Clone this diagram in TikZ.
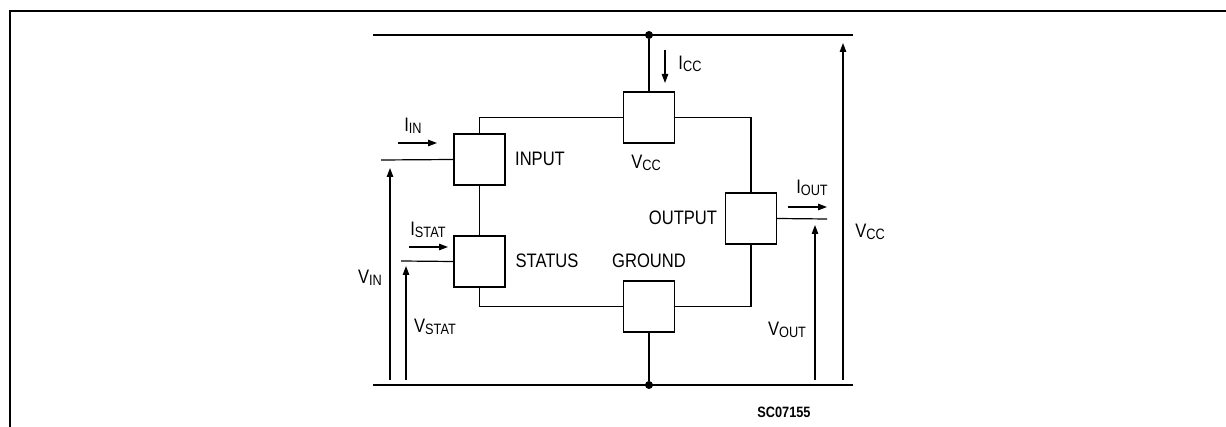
\documentclass[tikz,border=0pt]{standalone}
\usepackage{fontspec}
\setmainfont{Liberation Sans}[FakeStretch=0.85]
\usetikzlibrary{arrows.meta}
\newcommand{\lsub}[2]{#1\raisebox{-2pt}{\fontsize{15}{15}\selectfont #2}}
\begin{document}
\begin{tikzpicture}[x=1pt,y=-1pt,
  wire/.style={line width=1.2pt},
  frm/.style={line width=1.5pt},
  blk/.style={draw,line width=1.2pt,minimum width=51pt,minimum height=51pt,inner sep=0pt},
  lbl/.style={font=\fontsize{19.5}{20}\selectfont,inner sep=0pt},
  code/.style={font=\fontsize{15}{15}\selectfont\bfseries,inner sep=0pt},
  arr/.style={line width=1.2pt,-{Triangle[length=9pt,width=6.5pt]}},
  jdot/.style={circle,fill,inner sep=0pt,minimum size=8pt}]
\useasboundingbox (0,0) rectangle (1226,427);
% frame
\coordinate (fBL) at (10,427);
\coordinate (fTL) at (10,11);
\coordinate (fTR) at (1226,11);
\draw[frm] (fBL) -- (fTL) -- (fTR);
% rails
\coordinate (rTL) at (373,35);
\coordinate (rTR) at (853,35);
\coordinate (rBL) at (373,385);
\coordinate (rBR) at (853,385);
\draw[wire] (rTL) -- (rTR);
\draw[wire] (rBL) -- (rBR);
\node[jdot] (tdot) at (649,35) {};
\node[jdot] (bdot) at (649,385) {};
% blocks
\node[blk] (vcc) at (649,117.5) {};
\node[blk] (input) at (479.5,159.5) {};
\node[blk] (status) at (479.5,261.5) {};
\node[blk] (ground) at (649,306.5) {};
\node[blk] (output) at (751,218.5) {};
% wires
\draw[wire] (tdot) -- (vcc.north);
\draw[wire] (ground.south) -- (bdot);
\draw[wire] (input.north) |- (vcc.west);
\draw[wire] (vcc.east) -| (output.north);
\draw[wire] (input.south) -- (status.north);
\draw[wire] (status.south) |- (ground.west);
\draw[wire] (ground.east) -| (output.south);
\coordinate (inL) at (381,160);
\coordinate (stL) at (401,261);
\coordinate (outR) at (827,219);
\draw[wire] (inL) -- (input.west);
\draw[wire] (stL) -- (status.west);
\draw[wire] (output.east) -- (outR);
% current arrows
\coordinate (iinA) at (398,143); \coordinate (iinB) at (437,143);
\coordinate (istA) at (409,247); \coordinate (istB) at (448,247);
\coordinate (ioutA) at (788,207); \coordinate (ioutB) at (827,207);
\coordinate (iccA) at (665,50); \coordinate (iccB) at (665,83);
\draw[arr] (iinA) -- (iinB);
\draw[arr] (istA) -- (istB);
\draw[arr] (ioutA) -- (ioutB);
\draw[arr] (iccA) -- (iccB);
% voltage arrows
\coordinate (vinA) at (390,380); \coordinate (vinB) at (390,168);
\coordinate (vstA) at (406,380); \coordinate (vstB) at (406,266);
\coordinate (voA) at (815,380); \coordinate (voB) at (815,225);
\coordinate (vcA) at (843,380); \coordinate (vcB) at (843,43);
\draw[arr] (vinA) -- (vinB);
\draw[arr] (vstA) -- (vstB);
\draw[arr] (voA) -- (voB);
\draw[arr] (vcA) -- (vcB);
% labels
\node[lbl] (lIin) at (413,126) {\lsub{I}{IN}};
\node[lbl] (lIcc) at (690,64) {\lsub{I}{CC}};
\node[lbl] (lInput) at (540,159) {INPUT};
\node[lbl] (lVccB) at (646,163) {\lsub{V}{CC}};
\node[lbl] (lIst) at (428,230) {\lsub{I}{STAT}};
\node[lbl] (lStatus) at (547,261) {STATUS};
\node[lbl] (lVin) at (370,278) {\lsub{V}{IN}};
\node[lbl] (lVst) at (435,327) {\lsub{V}{STAT}};
\node[lbl] (lGround) at (649,261) {GROUND};
\node[lbl] (lOutput) at (683,218) {OUTPUT};
\node[lbl] (lIout) at (812,188) {\lsub{I}{OUT}};
\node[lbl] (lVout) at (787,330) {\lsub{V}{OUT}};
\node[lbl] (lVccR) at (870,232) {\lsub{V}{CC}};
\node[code] (lCode) at (784,412) {SC07155};
\end{tikzpicture}
\end{document}
